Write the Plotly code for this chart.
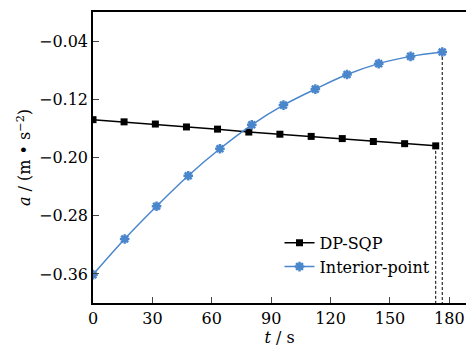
import plotly.graph_objects as go

t_dp = [0, 15.7, 31.5, 47.2, 62.9, 78.7, 94.4, 110.2, 125.9, 141.6, 157.4, 173.1]
a_dp = [-0.148, -0.151, -0.154, -0.158, -0.161, -0.165, -0.168, -0.171, -0.174, -0.178, -0.181, -0.184]

t_ip = [0, 16.0, 32.1, 48.1, 64.1, 80.2, 96.2, 112.3, 128.3, 144.3, 160.4, 176.4]
a_ip = [-0.361, -0.312, -0.267, -0.225, -0.188, -0.155, -0.128, -0.106, -0.086, -0.071, -0.061, -0.055]

x_ticks = [0, 30, 60, 90, 120, 150, 180]
y_ticks = [-0.36, -0.28, -0.20, -0.12, -0.04]
y_ticktext = ["\u22120.36", "\u22120.28", "\u22120.20", "\u22120.12", "\u22120.04"]
y_min, y_max = -0.40, 0.0
x_min, x_max = 0, 188.4

font = "DejaVu Serif"
blue = "#4a86cc"

fig = go.Figure()
fig.add_trace(go.Scatter(x=[t_dp[-1], t_dp[-1]], y=[a_dp[-1], y_min], mode="lines",
                         line=dict(color="black", width=1, dash="3px,2px"), showlegend=False))
fig.add_trace(go.Scatter(x=[t_ip[-1], t_ip[-1]], y=[a_ip[-1], y_min], mode="lines",
                         line=dict(color="black", width=1, dash="3px,2px"), showlegend=False))
fig.add_trace(go.Scatter(x=t_dp, y=a_dp, mode="lines+markers", name="DP-SQP",
                         line=dict(color="black", width=1.5),
                         marker=dict(symbol="square", size=7, color="black")))
fig.add_trace(go.Scatter(x=t_ip, y=a_ip, mode="lines+markers", name="Interior-point",
                         line=dict(color=blue, width=1.5, shape="spline"),
                         marker=dict(symbol="asterisk-open", size=8, color=blue,
                                     line=dict(color=blue, width=2.5))))

tick_font = dict(family=font, size=16, color="black")
title_font = dict(family=font, size=16, color="black")

fig.update_layout(
    width=466, height=351,
    margin=dict(l=93, r=0, t=12, b=48, autoexpand=False),
    plot_bgcolor="white", paper_bgcolor="white",
    font=dict(family=font, size=16, color="black"),
    legend=dict(x=0.5, y=0.265, xanchor="left", yanchor="top",
                bgcolor="rgba(0,0,0,0)", font=dict(size=16, family=font, color="black"),
                itemwidth=30, tracegroupgap=0),
    showlegend=True,
)
fig.update_xaxes(range=[x_min, x_max], tickvals=x_ticks, ticks="inside", ticklen=6,
                 tickfont=tick_font, ticklabeloverflow="allow", automargin=False,
                 showline=True, linecolor="black", linewidth=1.5, mirror=True,
                 showgrid=False, zeroline=False,
                 title=dict(text="<i>t</i> / s", standoff=2, font=title_font))
fig.update_yaxes(range=[y_min, y_max], tickvals=y_ticks, ticktext=y_ticktext,
                 ticks="inside", ticklen=6, tickfont=tick_font, automargin=False,
                 showline=True, linecolor="black", linewidth=1.5,
                 showgrid=False, zeroline=False,
                 title=dict(text="<i>a</i> / (m • s<sup>\u22122</sup>)", standoff=4,
                            font=title_font))

fig.write_html("out.html")
